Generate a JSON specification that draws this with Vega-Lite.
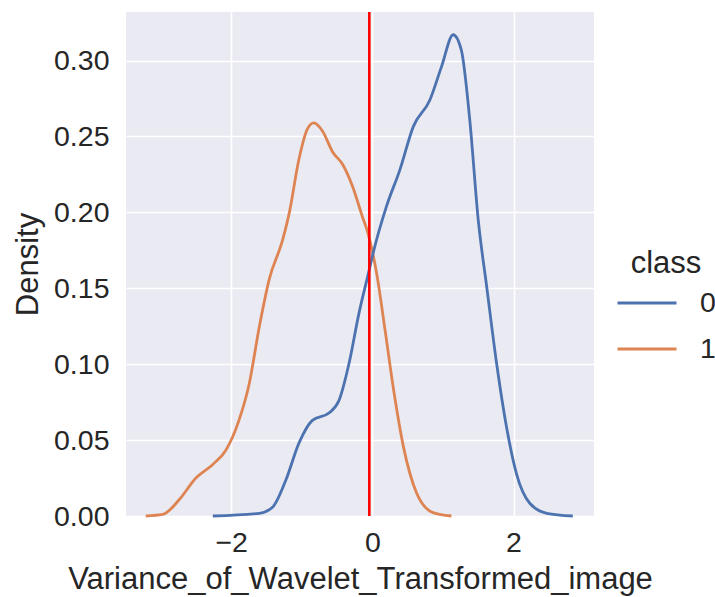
{
  "$schema": "https://vega.github.io/schema/vega-lite/v6.json",
  "autosize": "none",
  "width": 468,
  "height": 504,
  "padding": {"left": 126, "top": 12, "right": 121, "bottom": 81},
  "background": "white",
  "config": {
    "view": {"fill": "#EAEAF2", "stroke": null},
    "font": "Liberation Sans",
    "axis": {
      "grid": true, "gridColor": "white", "gridWidth": 1.6,
      "domain": false, "ticks": false,
      "labelFont": "Liberation Sans", "labelFontSize": 28.5, "labelColor": "#262626",
      "titleFont": "Liberation Sans", "titleFontSize": 31, "titleColor": "#262626", "titleFontWeight": "normal"
    },
    "legend": {
      "labelFont": "Liberation Sans", "labelFontSize": 28.5, "labelColor": "#262626",
      "titleFont": "Liberation Sans", "titleFontSize": 31, "titleColor": "#262626", "titleFontWeight": "normal"
    }
  },
  "datasets": {
    "kde": [
      {"x": -3.21, "density": 0, "class": "1"},
      {"x": -2.97, "density": 0.001, "class": "1"},
      {"x": -2.74, "density": 0.0105, "class": "1"},
      {"x": -2.5, "density": 0.025, "class": "1"},
      {"x": -2.26, "density": 0.034, "class": "1"},
      {"x": -2.08, "density": 0.043, "class": "1"},
      {"x": -1.89, "density": 0.063, "class": "1"},
      {"x": -1.745, "density": 0.087, "class": "1"},
      {"x": -1.6, "density": 0.125, "class": "1"},
      {"x": -1.46, "density": 0.156, "class": "1"},
      {"x": -1.27, "density": 0.182, "class": "1"},
      {"x": -1.18, "density": 0.199, "class": "1"},
      {"x": -1.04, "density": 0.235, "class": "1"},
      {"x": -0.92, "density": 0.255, "class": "1"},
      {"x": -0.83, "density": 0.259, "class": "1"},
      {"x": -0.705, "density": 0.2535, "class": "1"},
      {"x": -0.565, "density": 0.24, "class": "1"},
      {"x": -0.42, "density": 0.2315, "class": "1"},
      {"x": -0.28, "density": 0.217, "class": "1"},
      {"x": -0.14, "density": 0.197, "class": "1"},
      {"x": -0.06, "density": 0.186, "class": "1"},
      {"x": 0.06, "density": 0.16, "class": "1"},
      {"x": 0.18, "density": 0.1225, "class": "1"},
      {"x": 0.295, "density": 0.085, "class": "1"},
      {"x": 0.44, "density": 0.0457, "class": "1"},
      {"x": 0.625, "density": 0.0153, "class": "1"},
      {"x": 0.86, "density": 0.0022, "class": "1"},
      {"x": 1.12, "density": 0, "class": "1"},
      {"x": -2.26, "density": 0, "class": "0"},
      {"x": -1.6, "density": 0.0018, "class": "0"},
      {"x": -1.41, "density": 0.006, "class": "0"},
      {"x": -1.225, "density": 0.0237, "class": "0"},
      {"x": -1.04, "density": 0.048, "class": "0"},
      {"x": -0.85, "density": 0.063, "class": "0"},
      {"x": -0.61, "density": 0.068, "class": "0"},
      {"x": -0.47, "density": 0.0764, "class": "0"},
      {"x": -0.33, "density": 0.1006, "class": "0"},
      {"x": -0.19, "density": 0.1335, "class": "0"},
      {"x": -0.045, "density": 0.162, "class": "0"},
      {"x": 0.01, "density": 0.173, "class": "0"},
      {"x": 0.2, "density": 0.204, "class": "0"},
      {"x": 0.39, "density": 0.228, "class": "0"},
      {"x": 0.58, "density": 0.2565, "class": "0"},
      {"x": 0.815, "density": 0.274, "class": "0"},
      {"x": 0.98, "density": 0.296, "class": "0"},
      {"x": 1.145, "density": 0.317, "class": "0"},
      {"x": 1.26, "density": 0.307, "class": "0"},
      {"x": 1.38, "density": 0.261, "class": "0"},
      {"x": 1.5, "density": 0.195, "class": "0"},
      {"x": 1.62, "density": 0.151, "class": "0"},
      {"x": 1.76, "density": 0.1006, "class": "0"},
      {"x": 1.9, "density": 0.0588, "class": "0"},
      {"x": 2.04, "density": 0.0281, "class": "0"},
      {"x": 2.23, "density": 0.0084, "class": "0"},
      {"x": 2.47, "density": 0.0018, "class": "0"},
      {"x": 2.84, "density": 0, "class": "0"}
    ],
    "ref": [{"x": -0.043}]
  },
  "layer": [
    {
      "data": {"name": "kde"},
      "mark": {"type": "line", "interpolate": "monotone", "strokeWidth": 2.8},
      "encoding": {
        "x": {
          "field": "x", "type": "quantitative",
          "title": "Variance_of_Wavelet_Transformed_image",
          "scale": {"domain": [-3.49, 3.14], "nice": false, "zero": false},
          "axis": {"values": [-2, 0, 2], "format": "d", "labelPadding": 12, "titlePadding": 8}
        },
        "y": {
          "field": "density", "type": "quantitative", "title": "Density",
          "scale": {"domain": [0, 0.332], "nice": false},
          "axis": {"values": [0, 0.05, 0.1, 0.15, 0.2, 0.25, 0.3], "format": ".2f", "labelPadding": 17, "titlePadding": 9}
        },
        "color": {
          "field": "class", "type": "nominal",
          "scale": {"domain": ["0", "1"], "range": ["#4C72B0", "#DD8452"]},
          "legend": {
            "title": "class", "orient": "none", "legendX": 490, "legendY": 237,
            "symbolType": "stroke", "symbolSize": 3481, "symbolStrokeWidth": 2.8,
            "labelOffset": 22, "titlePadding": -8, "rowPadding": -7, "titleAnchor": "middle"
          }
        }
      }
    },
    {
      "data": {"name": "ref"},
      "mark": {"type": "rule", "color": "#FF0000", "strokeWidth": 2.6},
      "encoding": {"x": {"field": "x", "type": "quantitative"}}
    }
  ]
}
